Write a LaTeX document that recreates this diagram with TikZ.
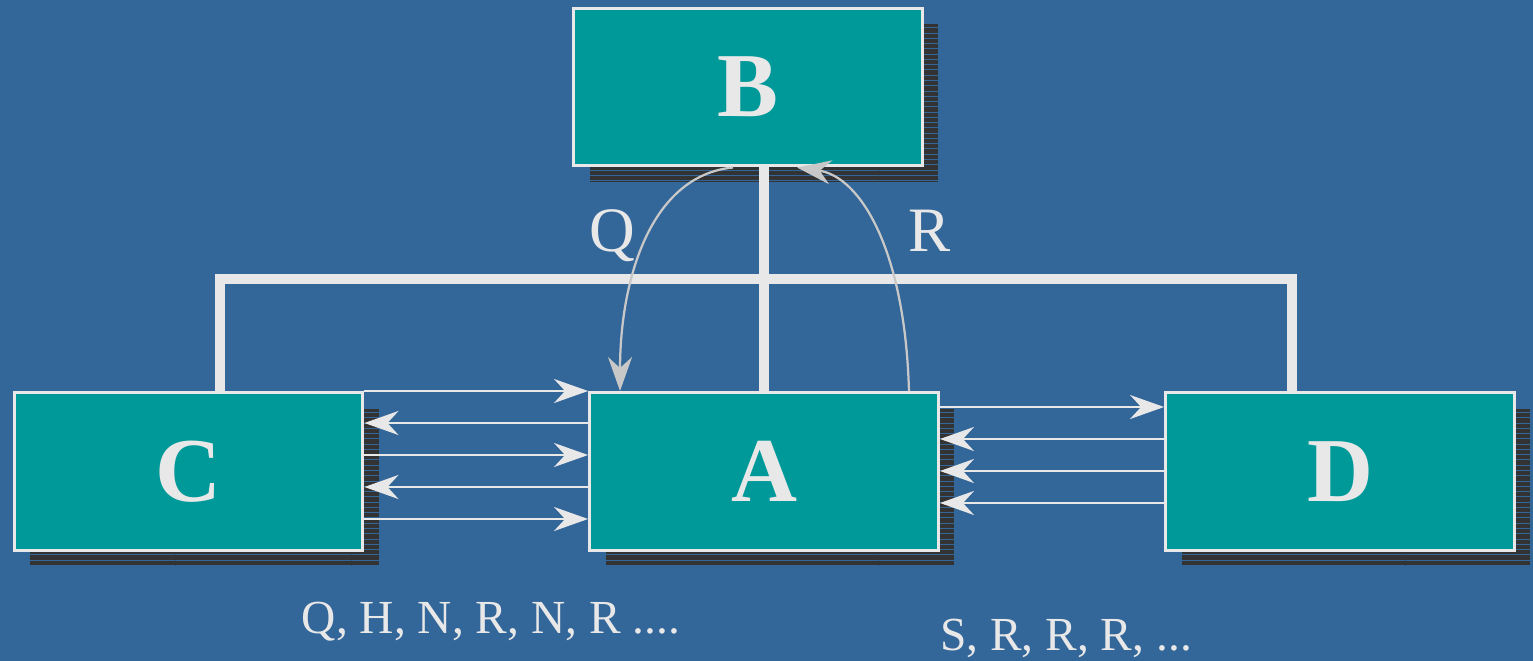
\documentclass[tikz,border=0pt]{standalone}
\usepackage{fontspec}
\setmainfont{Liberation Serif}
\usetikzlibrary{arrows.meta, shadows, patterns}
\definecolor{bgblue}{RGB}{51,102,153}
\definecolor{boxteal}{RGB}{0,153,153}
\definecolor{rimgray}{RGB}{232,232,232}
\definecolor{shadowgray}{RGB}{51,51,51}
\definecolor{curvegray}{RGB}{200,200,200}

\begin{document}
\begin{tikzpicture}[x=0.02cm, y=-0.02cm,
    station/.style={draw=rimgray, line width=0.06cm, fill=boxteal,
        minimum width=6.98cm, minimum height=3.16cm, text=rimgray,
        font=\fontsize{52}{60}\selectfont\bfseries,
        general shadow={fill=shadowgray, shadow xshift=0.32cm, shadow yshift=-0.32cm},
        general shadow={pattern=horizontal lines, pattern color=bgblue, shadow xshift=0.32cm, shadow yshift=-0.32cm}},
    bus/.style={draw=rimgray, line width=0.2cm, line join=miter},
    msg/.style={draw=rimgray, line width=0.05cm, -{Stealth[length=0.68cm, width=0.48cm, inset=0.22cm]}},
    talk/.style={draw=curvegray, line width=0.045cm, -{Stealth[length=0.68cm, width=0.48cm, inset=0.22cm]}},
    lbl/.style={text=rimgray, anchor=base}]

    % Background
    \path[use as bounding box, fill=bgblue] (0,0) rectangle (1533,661);

    % Stations
    \node[station] (B) at (748,87) {B};
    \node[station] (C) at (188.5,471.5) {C};
    \node[station] (A) at (764,471.5) {A};
    \node[station] (D) at (1340,471.5) {D};

    % Shared bus
    \coordinate (busL) at (220,279);
    \coordinate (busR) at (1292,279);
    \draw[bus] (busL |- C.north) -- (busL) -- (busR) -- (busR |- D.north);
    \draw[bus] (A.north) -- (A.north |- B.south);

    % Request / reply between B and A
    \draw[talk] ([xshift=-0.3cm]B.south) .. controls +(-83,8) and +(0,-110) .. ([xshift=-2.88cm]A.north);
    \draw[talk] ([xshift=2.9cm]A.north) .. controls +(-4,-142) and +(63,9) .. ([xshift=0.98cm]B.south);
    \node[lbl, font=\fontsize{36}{40}\selectfont] (q) at (612,252) {Q};
    \node[lbl, font=\fontsize{36}{40}\selectfont] (r) at (930,252) {R};

    % Messages C <-> A
    \foreach \y in {391,455,519}
        \draw[msg] (C.east |- 0,\y) -- (A.west |- 0,\y);
    \foreach \y in {423,487}
        \draw[msg] (A.west |- 0,\y) -- (C.east |- 0,\y);

    % Messages A <-> D
    \draw[msg] (A.east |- 0,407) -- (D.west |- 0,407);
    \foreach \y in {439,471,503}
        \draw[msg] (D.west |- 0,\y) -- (A.east |- 0,\y);

    % Sequences
    \node[lbl, font=\fontsize{27}{32}\selectfont] (seqCA) at (491,633) {Q, H, N, R, N, R ....};
    \node[lbl, font=\fontsize{27}{32}\selectfont] (seqAD) at (1066,650) {S, R, R, R, ...};
\end{tikzpicture}
\end{document}
